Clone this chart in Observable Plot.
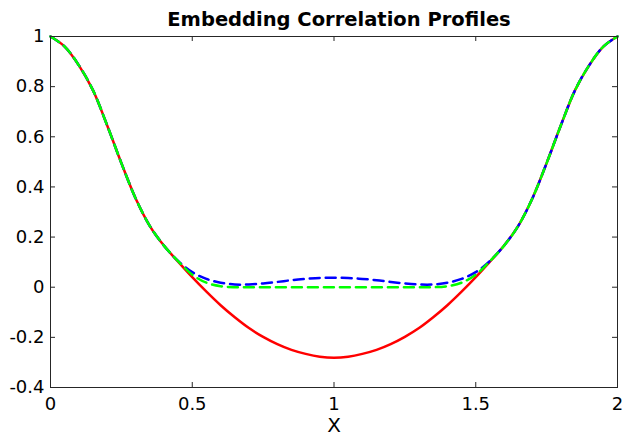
<!DOCTYPE html>
<html>
<head>
<meta charset="utf-8">
<script src="https://cdn.jsdelivr.net/npm/d3@7"></script>
<script src="https://cdn.jsdelivr.net/npm/@observablehq/plot@0.6"></script>
<style>
  html, body { margin: 0; padding: 0; background: #fff; }
</style>
</head>
<body>
<div id="chart"></div>
<script>
// ---- data ----
const xValues = [0, 0.05, 0.1, 0.15, 0.2, 0.25, 0.3, 0.35, 0.4, 0.45, 0.5, 0.55, 0.6, 0.65, 0.7, 0.75, 0.8, 0.85, 0.9, 0.95, 1,
  1.05, 1.1, 1.15, 1.2, 1.25, 1.3, 1.35, 1.4, 1.45, 1.5, 1.55, 1.6, 1.65, 1.7, 1.75, 1.8, 1.85, 1.9, 1.95, 2];

const redProfile = [1, 0.96, 0.885, 0.785, 0.645, 0.495, 0.355, 0.245, 0.166, 0.102, 0.04, -0.018, -0.072, -0.12, -0.163, -0.198, -0.227, -0.25, -0.266, -0.277, -0.281,
  -0.277, -0.266, -0.25, -0.227, -0.198, -0.163, -0.12, -0.072, -0.018, 0.04, 0.102, 0.166, 0.245, 0.355, 0.495, 0.645, 0.785, 0.885, 0.96, 1];

const blueProfile = [1, 0.96, 0.885, 0.785, 0.645, 0.495, 0.355, 0.245, 0.166, 0.105, 0.06, 0.033, 0.018, 0.011, 0.011, 0.015, 0.021, 0.028, 0.033, 0.037, 0.038,
  0.037, 0.033, 0.028, 0.021, 0.015, 0.011, 0.011, 0.018, 0.033, 0.06, 0.105, 0.166, 0.245, 0.355, 0.495, 0.645, 0.785, 0.885, 0.96, 1];

const greenProfile = [1, 0.96, 0.885, 0.785, 0.645, 0.495, 0.355, 0.245, 0.166, 0.104, 0.05, 0.018, 0.004, 0, 0, 0, 0, 0, 0, 0, 0,
  0, 0, 0, 0, 0, 0, 0, 0.004, 0.018, 0.05, 0.104, 0.166, 0.245, 0.355, 0.495, 0.645, 0.785, 0.885, 0.96, 1];

const xTicks = [0, 0.5, 1, 1.5, 2];
const xTickLabels = ["0", "0.5", "1", "1.5", "2"];
const yTicks = [-0.4, -0.2, 0, 0.2, 0.4, 0.6, 0.8, 1];
const yTickLabels = ["-0.4", "-0.2", "0", "0.2", "0.4", "0.6", "0.8", "1"];
const titleText = "Embedding Correlation Profiles";
const xLabel = "X";

// ---- layout ----
const W = 624, H = 439;
const ML = 50, MR = 7, MT = 36, MB = 52;
const FW = W - ML - MR, FH = H - MT - MB;
const TICK = 5;
const axisColor = "#262626";

const rows = (ys) => xValues.map((x, i) => ({x, y: ys[i]}));

const chart = Plot.plot({
  width: W, height: H,
  marginLeft: ML, marginRight: MR, marginTop: MT, marginBottom: MB,
  style: {fontFamily: '"DejaVu Sans", sans-serif', fontSize: "18px", color: "#000", background: "#fff"},
  x: {domain: [0, 2]},
  y: {domain: [-0.4, 1]},
  marks: [
    Plot.line(rows(redProfile), {x: "x", y: "y", stroke: "#ff0000", strokeWidth: 2.5, curve: "catmull-rom"}),
    Plot.line(rows(blueProfile), {x: "x", y: "y", stroke: "#0000ff", strokeWidth: 2.5, strokeDasharray: "10,6", curve: "catmull-rom"}),
    Plot.line(rows(greenProfile), {x: "x", y: "y", stroke: "#00ff00", strokeWidth: 2.5, strokeDasharray: "10,6", curve: "catmull-rom"}),
    // inward ticks on all four sides
    Plot.tickX(xTicks, {x: d => d, insetTop: FH - TICK, stroke: axisColor}),
    Plot.tickX(xTicks, {x: d => d, insetBottom: FH - TICK, stroke: axisColor}),
    Plot.tickY(yTicks, {y: d => d, insetRight: FW - TICK, stroke: axisColor}),
    Plot.tickY(yTicks, {y: d => d, insetLeft: FW - TICK, stroke: axisColor}),
    Plot.frame({stroke: axisColor, strokeWidth: 1}),
    Plot.axisX(xTicks, {tickSize: 0, tickPadding: 10, label: null, fontSize: 18,
      tickFormat: d => xTickLabels[xTicks.indexOf(d)]}),
    Plot.axisY(yTicks, {tickSize: 0, tickPadding: 6, label: null, fontSize: 18,
      tickFormat: d => yTickLabels[yTicks.indexOf(d)]}),
    Plot.text([xLabel], {frameAnchor: "bottom", dy: 38, text: d => d, fontSize: 20, lineAnchor: "middle", fill: "#000"}),
    Plot.text([titleText], {frameAnchor: "top", dy: -17, dx: 5, text: d => d, fontSize: 19.5, fontWeight: "bold", lineAnchor: "middle", fill: "#000"})
  ]
});
document.getElementById("chart").appendChild(chart);
</script>
</body>
</html>
